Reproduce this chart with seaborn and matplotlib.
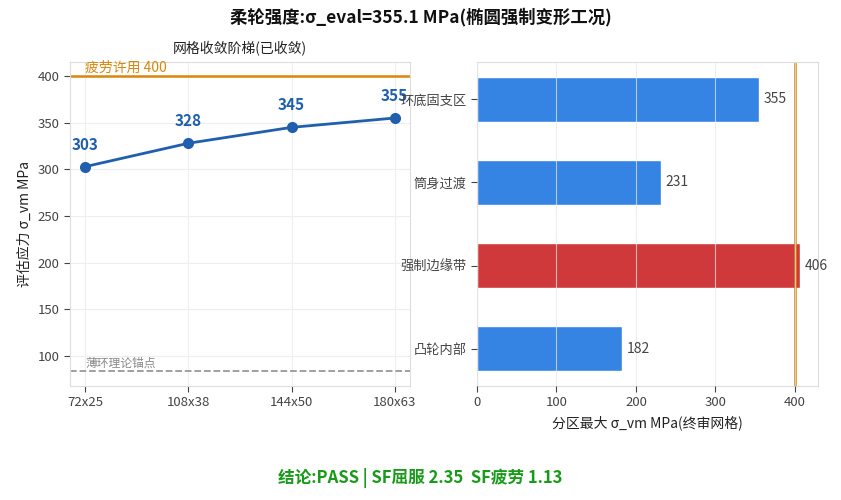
import numpy as np
import pandas as pd
import matplotlib
matplotlib.use('Agg')
import matplotlib.pyplot as plt
import seaborn as sns

sns.set_style("whitegrid")
plt.rcParams['font.family'] = ['Noto Sans CJK SC', 'DejaVu Sans']
plt.rcParams['axes.unicode_minus'] = False

# data
mesh_levels = ['72x25', '108x38', '144x50', '180x63']
mesh_stress = [303, 328, 345, 355]
zones = ['环底固支区', '筒身过渡', '强制边缘带', '凸轮内部']
zone_stress = [355, 231, 406, 182]
fatigue_limit = 400
thin_ring_anchor = 84

blue_line = '#1f5fae'
bar_blue = '#3584e4'
bar_red = '#d0393b'
orange = '#d9860c'
edge = '#dddddd'
tick_col = '#444444'

fig = plt.figure(figsize=(8.41, 5.0), dpi=100)
ax1 = fig.add_axes([70 / 841, 1 - 386 / 500, 340 / 841, 324 / 500])
ax2 = fig.add_axes([477 / 841, 1 - 386 / 500, 341 / 841, 324 / 500])

# ---- left: mesh convergence
conv_df = pd.DataFrame({'mesh': mesh_levels, 'stress': mesh_stress})
sns.lineplot(data=conv_df, x='mesh', y='stress', ax=ax1, color=blue_line,
             linewidth=2, marker='o', markersize=8, markeredgewidth=0, sort=False)
for i, v in enumerate(mesh_stress):
    ax1.annotate(f'{v}', (i, v), xytext=(0, 10), textcoords='offset points',
                 ha='center', va='bottom', color=blue_line, fontsize=11, fontweight='bold')
ax1.axhline(fatigue_limit, color=orange, linewidth=1.8)
ax1.text(0, fatigue_limit + 1, f'疲劳许用 {fatigue_limit}', color=orange, fontsize=10,
         ha='left', va='bottom')
ax1.axhline(thin_ring_anchor, color='#999999', linestyle='--', linewidth=1.3)
ax1.text(0, thin_ring_anchor + 1.5, '薄环理论锚点', color='#888888', fontsize=8.5,
         ha='left', va='bottom')
ax1.set_ylim(68, 415)
ax1.set_xlim(-0.15, 3.15)
ax1.set_title('网格收敛阶梯(已收敛)', fontsize=10, color='#222222', pad=6)
ax1.set_xlabel('')
ax1.set_ylabel('评估应力 σ_vm MPa', fontsize=10, color='#222222')
ax1.grid(color='#eeeeee', linewidth=0.8)

# ---- right: zone maxima
zone_df = pd.DataFrame({'zone': zones, 'stress': zone_stress})
palette = [bar_red if v > fatigue_limit else bar_blue for v in zone_stress]
sns.barplot(data=zone_df, x='stress', y='zone', hue='zone', palette=palette,
            legend=False, ax=ax2, width=0.55, saturation=1, orient='h')
for i, v in enumerate(zone_stress):
    ax2.text(v + 6, i, f'{v}', va='center', ha='left', fontsize=10, color='#444444')
ax2.axvline(fatigue_limit, color=orange, linewidth=1.8)
ax2.set_ylim(3.45, -0.45)
ax2.set_xlim(0, 429)
ax2.set_xlabel('分区最大 σ_vm MPa(终审网格)', fontsize=10, color='#222222')
ax2.set_ylabel('')
ax2.grid(axis='y', visible=False)
ax2.grid(axis='x', color='#e6e6e6', alpha=0.7, linewidth=0.8)
ax2.set_axisbelow(False)

for ax in (ax1, ax2):
    for s in ax.spines.values():
        s.set_color(edge)
        s.set_linewidth(0.8)
    ax.tick_params(axis='both', which='major', bottom=True, left=True, length=4,
                   width=0.8, color=tick_col, labelsize=9.5, labelcolor=tick_col)

fig.suptitle('柔轮强度:σ_eval=355.1 MPa(椭圆强制变形工况)', x=0.5, y=0.985,
             fontsize=12.5, fontweight='bold', color='#111111')
fig.text(0.5, 0.044, '结论:PASS | SF屈服 2.35  SF疲劳 1.13', ha='center', va='center',
         fontsize=12, fontweight='bold', color='#1a9a1a')

fig.savefig('out.png', dpi=100)
